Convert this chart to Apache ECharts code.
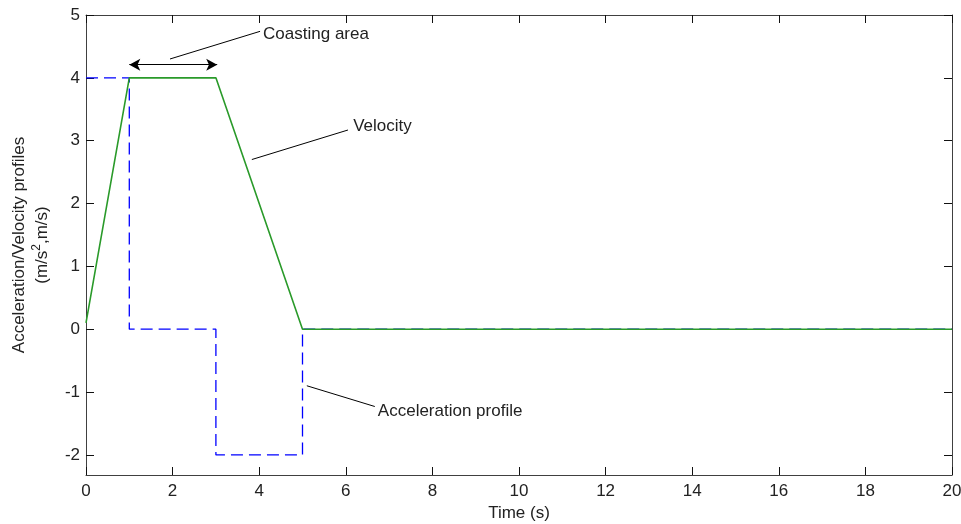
<!DOCTYPE html>
<html>
<head>
<meta charset="utf-8">
<script src="https://cdn.jsdelivr.net/npm/echarts@6/dist/echarts.min.js"></script>
<style>
  html, body { margin: 0; padding: 0; background: #fff; }
  #chart { width: 961px; height: 524px; }
</style>
</head>
<body>
<div id="chart"></div>
<script>
// Motion profile: velocity (trapezoid) and acceleration (step) versus time
const velocityTime = [0, 1, 3, 5, 20];
const velocityValues = [0.1, 4, 4, 0, 0];

const accelTime = [0, 1, 1, 3, 3, 5, 5, 20];
const accelValues = [4, 4, 0, 0, -2, -2, 0, 0];

const yTickValues = [-2, -1, 0, 1, 2, 3, 4, 5];

// Annotation texts and their leader lines, in data units [time, value]
const coastingArrow = [[1, 4.21], [3.03, 4.21]];
const annotations = [
  { text: 'Coasting area', line: [[1.94, 4.30], [4.02, 4.74]], at: [4.09, 4.70] },
  { text: 'Velocity', line: [[3.83, 2.70], [6.05, 3.17]], at: [6.17, 3.23] },
  { text: 'Acceleration profile', line: [[5.10, -0.90], [6.67, -1.23]], at: [6.74, -1.30] }
];

const FONT = 'Liberation Sans, Arial, sans-serif';
const FONT_SIZE = 17;
const AXIS_COLOR = '#404040';
const TEXT_COLOR = '#222';

const chart = echarts.init(document.getElementById('chart'), null, { renderer: 'canvas' });

const pair = (xs, ys) => xs.map((x, i) => [x, ys[i]]);

const baseX = {
  type: 'value', min: 0, max: 20, interval: 2,
  axisLine: { show: true, onZero: false, lineStyle: { color: AXIS_COLOR, width: 1 } },
  axisTick: { show: true, inside: true, length: 8, lineStyle: { color: '#111', width: 1 } },
  splitLine: { show: false }
};
const baseY = {
  type: 'value', min: -2.32, max: 5,
  axisLine: { show: true, onZero: false, lineStyle: { color: AXIS_COLOR, width: 1 } },
  axisTick: { show: true, inside: true, length: 8, customValues: yTickValues, lineStyle: { color: '#111', width: 1 } },
  splitLine: { show: false }
};

chart.setOption({
  animation: false,
  backgroundColor: '#fff',
  grid: { left: 86, top: 15, width: 866, height: 460, containLabel: false, outerBoundsMode: 'none' },
  xAxis: [
    Object.assign({}, baseX, {
      position: 'bottom',
      name: 'Time (s)', nameLocation: 'middle', nameGap: 28,
      nameTextStyle: { fontFamily: FONT, fontSize: FONT_SIZE, color: TEXT_COLOR },
      axisLabel: { show: true, margin: 8, fontFamily: FONT, fontSize: FONT_SIZE, color: TEXT_COLOR }
    }),
    Object.assign({}, baseX, { position: 'top', axisLabel: { show: false } })
  ],
  yAxis: [
    Object.assign({}, baseY, {
      position: 'left',
      name: 'Acceleration/Velocity profiles\n(m/s{sup|2},m/s)',
      nameLocation: 'middle', nameGap: 29, nameRotate: 90,
      nameTextStyle: {
        fontFamily: FONT, fontSize: FONT_SIZE, color: TEXT_COLOR, lineHeight: 23, align: 'center',
        rich: { sup: { fontFamily: FONT, fontSize: 12, color: TEXT_COLOR, verticalAlign: 'top', padding: [0, 0, 9, 0] } }
      },
      axisLabel: { show: true, margin: 6, customValues: yTickValues, fontFamily: FONT, fontSize: FONT_SIZE, color: TEXT_COLOR }
    }),
    Object.assign({}, baseY, { position: 'right', axisLabel: { show: false } })
  ],
  series: [
    {
      name: 'Acceleration', type: 'line', data: pair(accelTime, accelValues),
      showSymbol: false, symbol: 'none', z: 2,
      lineStyle: { color: '#0000ff', width: 1.3, type: [12, 6] }
    },
    {
      name: 'Velocity', type: 'line', data: pair(velocityTime, velocityValues),
      showSymbol: false, symbol: 'none', z: 3,
      lineStyle: { color: '#2a9a2a', width: 1.6 },
      markLine: {
        silent: true, animation: false,
        label: { show: false },
        lineStyle: { color: '#000', width: 1.2, type: 'solid' },
        data: [
          [
            { coord: coastingArrow[0], symbol: 'arrow', symbolSize: [9, 11] },
            { coord: coastingArrow[1], symbol: 'arrow', symbolSize: [9, 11] }
          ]
        ].concat(annotations.map(a => [
          { coord: a.line[0], symbol: 'none', lineStyle: { width: 1 } },
          { coord: a.line[1], symbol: 'none' }
        ]))
      }
    }
  ]
});

// Place the annotation texts next to their leader lines
function placeTexts() {
  const elements = annotations.map(a => {
    const p = chart.convertToPixel({ gridIndex: 0 }, a.at);
    return {
      type: 'text', x: p[0], y: p[1], z: 10,
      style: { text: a.text, font: FONT_SIZE + 'px ' + FONT, fill: TEXT_COLOR, textAlign: 'left', textVerticalAlign: 'middle' }
    };
  });
  chart.setOption({ graphic: elements });
}
placeTexts();
</script>
</body>
</html>
